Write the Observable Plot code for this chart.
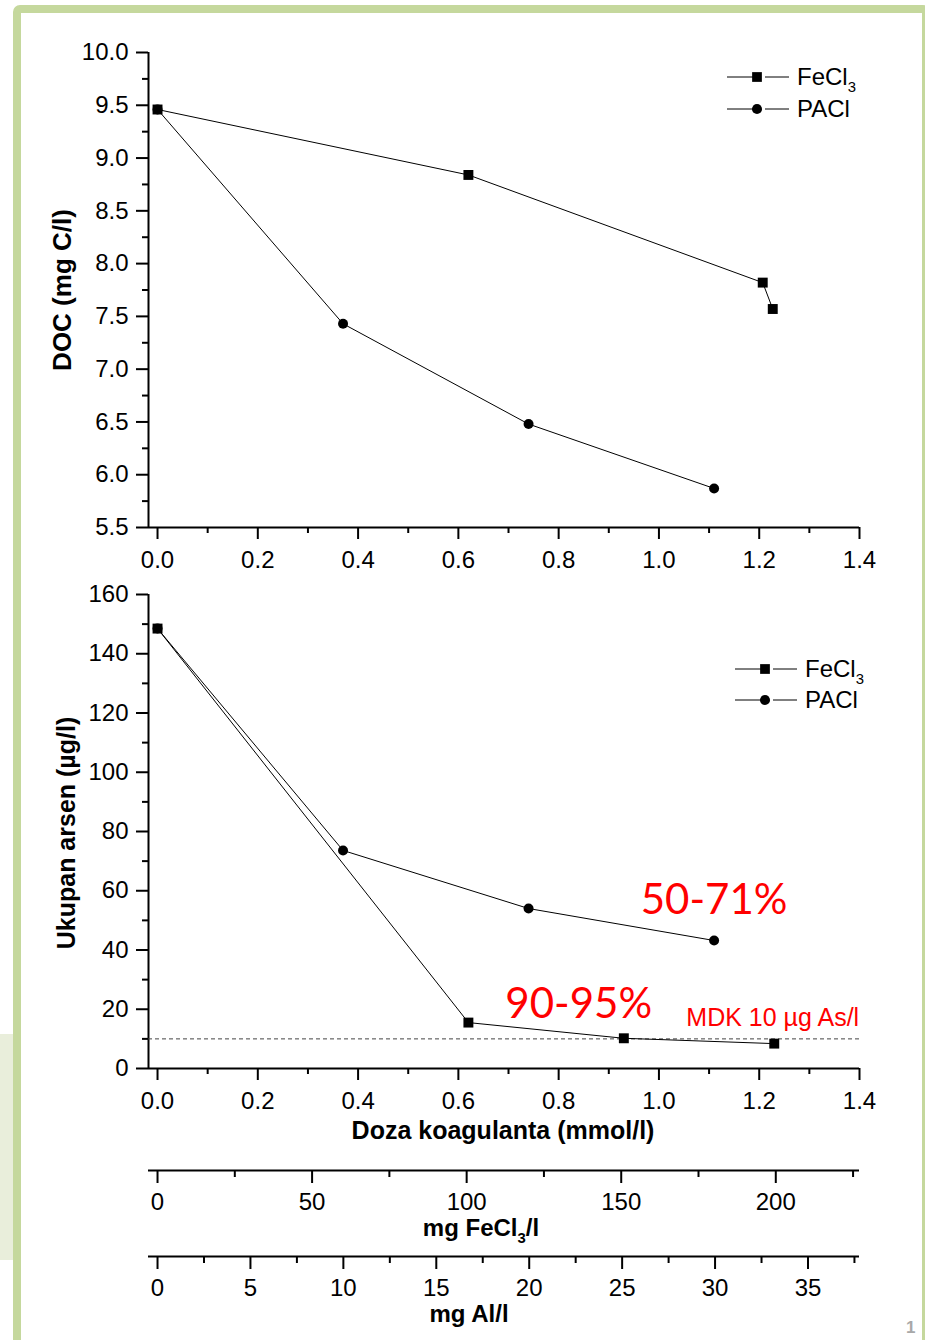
<!DOCTYPE html>
<html><head><meta charset="utf-8">
<script src="https://cdn.jsdelivr.net/npm/d3@7"></script>
<script src="https://cdn.jsdelivr.net/npm/@observablehq/plot@0.6"></script>
<style>
html,body{margin:0;padding:0;background:#fff;}
#page{position:relative;width:925px;height:1340px;overflow:hidden;background:#fff;}
#charts svg{display:block;}
#tab{position:absolute;left:0;top:1034px;width:21px;height:226px;background:#e9eedb;}
#frame{position:absolute;left:13px;top:5px;width:917px;height:1400px;border:8px solid #c5d89d;border-radius:7px;box-sizing:border-box;pointer-events:none;}
#pageno{position:absolute;left:906px;top:1318px;font:bold 17px "Liberation Sans",Arial,sans-serif;color:#a8a8a8;}
</style></head>
<body><div id="page"><div id="charts"></div><div id="tab"></div><div id="frame"></div><div id="pageno">1</div></div>
<script>
// ---------- data ----------
const seriesNames = ["FeCl3", "PACl"];
// DOC (mg C/l) vs dose (mmol/l)
const docFeX = [0, 0.62, 1.207, 1.227];
const docFeY = [9.46, 8.84, 7.82, 7.57];
const docPaX = [0, 0.37, 0.74, 1.11];
const docPaY = [9.46, 7.43, 6.48, 5.87];
// Arsenic (µg/l) vs dose (mmol/l)
const asFeX = [0, 0.62, 0.93, 1.23];
const asFeY = [148.5, 15.5, 10.2, 8.4];
const asPaX = [0, 0.37, 0.74, 1.11];
const asPaY = [148.5, 73.6, 54, 43.2];
const mdkLimit = 10;
// annotations
const annPct = [{label: "50-71%", x: 1.11, y: 52.3}, {label: "90-95%", x: 0.84, y: 17.2}];
const annMdk = [{label: "MDK 10 µg As/l", x: 1.227, y: 14.5}];
// ticks
const xMajor = [0, 0.2, 0.4, 0.6, 0.8, 1.0, 1.2, 1.4];
const xMinor = [0.1, 0.3, 0.5, 0.7, 0.9, 1.1, 1.3];
const docMajor = [5.5, 6.0, 6.5, 7.0, 7.5, 8.0, 8.5, 9.0, 9.5, 10.0];
const docMinor = [5.75, 6.25, 6.75, 7.25, 7.75, 8.25, 8.75, 9.25, 9.75];
const asMajor = [0, 20, 40, 60, 80, 100, 120, 140, 160];
const asMinor = [10, 30, 50, 70, 90, 110, 130, 150];
const feMajor = [0, 50, 100, 150, 200];
const feMinor = [25, 75, 125, 175, 225];
const alMajor = [0, 5, 10, 15, 20, 25, 30, 35];
const alMinor = [2.5, 7.5, 12.5, 17.5, 22.5, 27.5, 32.5, 37.5];
const xDomain = [-0.018, 1.4];
const molarFeCl3 = 162.2; // mg per mmol
const molarAl = 26.98;    // mg per mmol

// ---------- helpers ----------
const W = 925, ML = 148, MR = 66;
const font = '"Liberation Sans", Arial, Helvetica, sans-serif';
const baseStyle = {fontFamily: font, fontSize: "24px", color: "#000", background: "none", overflow: "visible"};
const pts = (xs, ys, s) => xs.map((x, i) => ({x, y: ys[i], s}));
const splitSub = (name) => { const m = name.match(/^(.*?)(\d+)$/); return m ? [[m[1]], [m[2], true]] : [[name]]; };

function addText(svg, parts, x, y, {size = 24, weight = "bold", rotate = 0, anchor = "middle", fill = "#000", dy = "0.35em"} = {}) {
  const t = d3.select(svg).append("text")
    .attr("transform", `translate(${x},${y}) rotate(${rotate})`)
    .attr("text-anchor", anchor).attr("font-family", font)
    .attr("font-size", size).attr("font-weight", weight).attr("fill", fill).attr("dy", dy);
  let prevSub = false;
  parts.forEach(([s, sub]) => {
    const sp = t.append("tspan").text(s);
    if (sub) sp.attr("font-size", size * 0.62).attr("dy", size * 0.3);
    else if (prevSub) sp.attr("dy", -size * 0.3);
    prevSub = !!sub;
  });
  return t;
}

function addLegend(svg, x0, y0, gap) {
  const g = d3.select(svg).append("g");
  seriesNames.forEach((name, i) => {
    const y = y0 + i * gap;
    g.append("line").attr("x1", x0).attr("x2", x0 + 26).attr("y1", y).attr("y2", y).attr("stroke", "#000").attr("stroke-width", 1);
    g.append("line").attr("x1", x0 + 38).attr("x2", x0 + 62).attr("y1", y).attr("y2", y).attr("stroke", "#000").attr("stroke-width", 1);
    const sym = i === 0 ? d3.symbolSquare : d3.symbolCircle;
    const size = i === 0 ? 95 : 80;
    g.append("path").attr("transform", `translate(${x0 + 30},${y})`).attr("d", d3.symbol(sym, size)()).attr("fill", "#000");
    addText(svg, splitSub(name), x0 + 70, y + 8, {size: 24, weight: "normal", anchor: "start", dy: 0});
  });
}

function mainChart({height, mt, mb, yDomain, yMajor, yMinor, yFmt, fe, pa, extra = []}) {
  return Plot.plot({
    width: W, height, marginLeft: ML, marginRight: MR, marginTop: mt, marginBottom: mb,
    style: baseStyle,
    x: {domain: xDomain, label: null},
    y: {domain: yDomain, label: null},
    marks: [
      Plot.axisX({ticks: xMajor, tickSize: 12, tickPadding: 11, strokeWidth: 2, tickFormat: d3.format(".1f"), label: null}),
      Plot.axisX({ticks: xMinor, tickSize: 6, strokeWidth: 2, tickFormat: () => "", label: null}),
      Plot.axisY({ticks: yMajor, tickSize: 12, tickPadding: 8, strokeWidth: 2, tickFormat: yFmt, label: null}),
      Plot.axisY({ticks: yMinor, tickSize: 6, strokeWidth: 2, tickFormat: () => "", label: null}),
      Plot.ruleX([xDomain[0]], {strokeWidth: 2}),
      Plot.ruleY([yDomain[0]], {strokeWidth: 2}),
      ...extra,
      Plot.line([...fe, ...pa], {x: "x", y: "y", z: "s", stroke: "#000", strokeWidth: 1}),
      Plot.dot(fe, {x: "x", y: "y", symbol: "square", r: 5.6, fill: "#000", stroke: "none"}),
      Plot.dot(pa, {x: "x", y: "y", symbol: "circle", r: 5, fill: "#000", stroke: "none"})
    ]
  });
}

function unitAxis({height, mb, factor, major, minor, title, tx, ty}) {
  const svg = Plot.plot({
    width: W, height, marginLeft: ML, marginRight: MR, marginTop: 0, marginBottom: mb,
    style: baseStyle,
    x: {domain: xDomain.map(d => d * factor), label: null},
    y: {domain: [0, 1], axis: null},
    marks: [
      Plot.ruleY([0], {strokeWidth: 2}),
      Plot.axisX({ticks: major, tickSize: 13, tickPadding: 9, strokeWidth: 2, label: null}),
      Plot.axisX({ticks: minor, tickSize: 7, strokeWidth: 2, tickFormat: () => "", label: null})
    ]
  });
  addText(svg, title, tx, ty, {size: 24, weight: "bold", dy: 0});
  return svg;
}

// ---------- build ----------
const charts = document.getElementById("charts");

const docFe = pts(docFeX, docFeY, seriesNames[0]);
const docPa = pts(docPaX, docPaY, seriesNames[1]);
const svg1 = mainChart({height: 578, mt: 52, mb: 51, yDomain: [5.5, 10], yMajor: docMajor, yMinor: docMinor,
  yFmt: d3.format(".1f"), fe: docFe, pa: docPa});
addText(svg1, [["DOC (mg C/l)"]], 62, 290, {rotate: -90, size: 26});
addLegend(svg1, 727, 77, 32);
charts.appendChild(svg1);

const asFe = pts(asFeX, asFeY, seriesNames[0]);
const asPa = pts(asPaX, asPaY, seriesNames[1]);
const svg2 = mainChart({height: 572, mt: 16, mb: 82, yDomain: [0, 160], yMajor: asMajor, yMinor: asMinor,
  yFmt: d3.format("d"), fe: asFe, pa: asPa,
  extra: [
    Plot.ruleY([mdkLimit], {stroke: "#444", strokeWidth: 1, strokeDasharray: "4,3"}),
    Plot.text(annPct, {x: "x", y: "y", text: "label", fill: "#ff0000", fontSize: 42, fontFamily: "Lato, 'Open Sans', sans-serif", lineAnchor: "bottom", textAnchor: "middle"}),
    Plot.text(annMdk, {x: "x", y: "y", text: "label", fill: "#ff0000", fontSize: 25, lineAnchor: "bottom", textAnchor: "middle"})
  ]});
addText(svg2, [["Ukupan arsen (µg/l)"]], 66, 255, {rotate: -90, size: 25});
addText(svg2, [["Doza koagulanta (mmol/l)"]], 503, 552, {size: 25});
addLegend(svg2, 735, 91, 31);
charts.appendChild(svg2);

charts.appendChild(unitAxis({height: 92, mb: 72, factor: molarFeCl3, major: feMajor, minor: feMinor,
  title: [["mg FeCl"], ["3", true], ["/l"]], tx: 481, ty: 86}));
charts.appendChild(unitAxis({height: 98, mb: 84, factor: molarAl, major: alMajor, minor: alMinor,
  title: [["mg Al/l"]], tx: 469, ty: 80}));
</script></body></html>
